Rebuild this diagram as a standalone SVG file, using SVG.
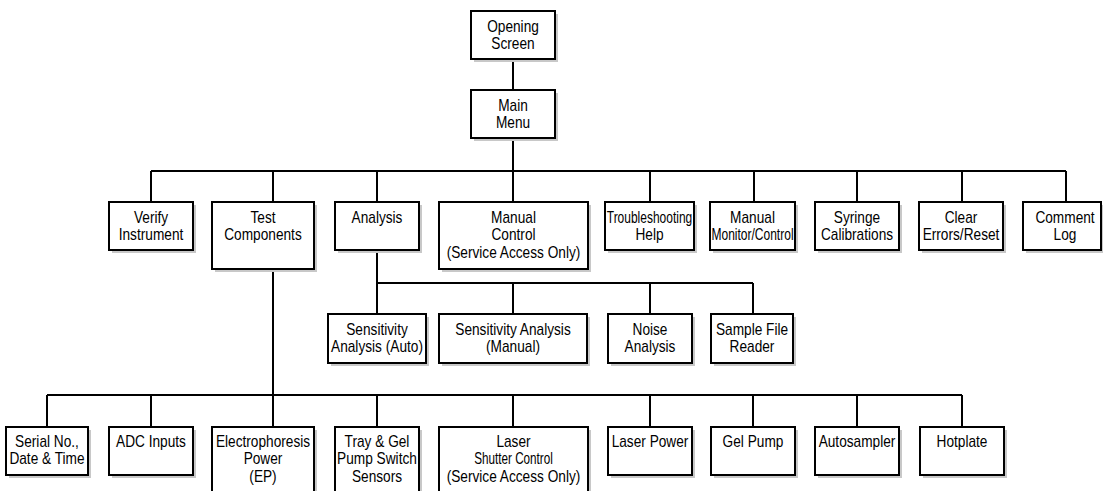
<svg xmlns="http://www.w3.org/2000/svg" width="1103" height="491" viewBox="0 0 1103 491">
<style>
.sh { fill: #c8c8c8; stroke: none; }
.bx { fill: #ffffff; stroke: #000000; stroke-width: 2; }
.t { font-family: "Liberation Sans", Arial, sans-serif; font-size: 16px; text-anchor: middle; fill: #000000; }
#connectors path { fill: none; stroke: #000000; stroke-width: 2; }
</style>
<rect width="1103" height="491" fill="#ffffff"/>
<g id="connectors">
<path d="M513 59 V90 M513 138 V171 M151 171 H1066"/>
<path d="M151 171 V202 M273 171 V202 M377 171 V202 M513 171 V202 M650 171 V202 M754 171 V202 M857 171 V202 M962 171 V202 M1066 171 V202"/>
<path d="M377 250 V314 M377 283 H753 M513 283 V314 M650 283 V314 M753 283 V314"/>
<path d="M273 269 V427 M47 395 H962 M47 395 V427 M151 395 V427 M377 395 V427 M513 395 V427 M650 395 V427 M753 395 V427 M857 395 V427 M962 395 V427"/>
</g>
<g id="opening-screen"><rect class="sh" x="474" y="14" width="84" height="48"/><rect class="bx" x="471" y="11" width="84" height="48"/>
<text class="t" transform="translate(513 0) scale(0.855 1)"><tspan x="0" y="32">Opening</tspan><tspan x="0" y="49.5">Screen</tspan></text></g>
<g id="main-menu"><rect class="sh" x="474" y="93" width="84" height="48"/><rect class="bx" x="471" y="90" width="84" height="48"/>
<text class="t" transform="translate(513 0) scale(0.855 1)"><tspan x="0" y="111">Main</tspan><tspan x="0" y="128.5">Menu</tspan></text></g>

<g id="verify-instrument"><rect class="sh" x="112" y="205" width="84" height="48"/><rect class="bx" x="109" y="202" width="84" height="48"/>
<text class="t" transform="translate(151 0) scale(0.855 1)"><tspan x="0" y="223">Verify</tspan><tspan x="0" y="240.5">Instrument</tspan></text></g>
<g id="test-components"><rect class="sh" x="215" y="205" width="102" height="67"/><rect class="bx" x="212" y="202" width="102" height="67"/>
<text class="t" transform="translate(263 0) scale(0.855 1)"><tspan x="0" y="223">Test</tspan><tspan x="0" y="240.5">Components</tspan></text></g>
<g id="analysis"><rect class="sh" x="338" y="205" width="84" height="48"/><rect class="bx" x="335" y="202" width="84" height="48"/>
<text class="t" transform="translate(377 0) scale(0.855 1)"><tspan x="0" y="223">Analysis</tspan></text></g>
<g id="manual-control"><rect class="sh" x="442" y="205" width="149" height="67"/><rect class="bx" x="439" y="202" width="149" height="67"/>
<text class="t" transform="translate(513.5 0) scale(0.855 1)"><tspan x="0" y="223">Manual</tspan><tspan x="0" y="240.5">Control</tspan><tspan x="0" y="258">(Service Access Only)</tspan></text></g>
<g id="troubleshooting-help"><rect class="sh" x="608" y="205" width="89" height="48"/><rect class="bx" x="605" y="202" width="89" height="48"/>
<text class="t" transform="translate(649.5 0) scale(0.855 1)"><tspan x="0" y="223" textLength="100" lengthAdjust="spacingAndGlyphs">Troubleshooting</tspan><tspan x="0" y="240.5">Help</tspan></text></g>
<g id="manual-monitor-control"><rect class="sh" x="713" y="205" width="85" height="48"/><rect class="bx" x="710" y="202" width="85" height="48"/>
<text class="t" transform="translate(752.5 0) scale(0.855 1)"><tspan x="0" y="223">Manual</tspan><tspan x="0" y="240.5" textLength="96" lengthAdjust="spacingAndGlyphs">Monitor/Control</tspan></text></g>
<g id="syringe-calibrations"><rect class="sh" x="818" y="205" width="84" height="48"/><rect class="bx" x="815" y="202" width="84" height="48"/>
<text class="t" transform="translate(857 0) scale(0.855 1)"><tspan x="0" y="223">Syringe</tspan><tspan x="0" y="240.5">Calibrations</tspan></text></g>
<g id="clear-errors-reset"><rect class="sh" x="922" y="205" width="84" height="48"/><rect class="bx" x="919" y="202" width="84" height="48"/>
<text class="t" transform="translate(961 0) scale(0.855 1)"><tspan x="0" y="223">Clear</tspan><tspan x="0" y="240.5">Errors/Reset</tspan></text></g>
<g id="comment-log"><rect class="sh" x="1026" y="205" width="78" height="48"/><rect class="bx" x="1023" y="202" width="78" height="48"/>
<text class="t" transform="translate(1065 0) scale(0.855 1)"><tspan x="0" y="223">Comment</tspan><tspan x="0" y="240.5">Log</tspan></text></g>

<g id="sensitivity-analysis-auto"><rect class="sh" x="331" y="317" width="98" height="49"/><rect class="bx" x="328" y="314" width="98" height="49"/>
<text class="t" transform="translate(377 0) scale(0.855 1)"><tspan x="0" y="335">Sensitivity</tspan><tspan x="0" y="352.5">Analysis (Auto)</tspan></text></g>
<g id="sensitivity-analysis-manual"><rect class="sh" x="442" y="317" width="148" height="49"/><rect class="bx" x="439" y="314" width="148" height="49"/>
<text class="t" transform="translate(513 0) scale(0.855 1)"><tspan x="0" y="335">Sensitivity Analysis</tspan><tspan x="0" y="352.5">(Manual)</tspan></text></g>
<g id="noise-analysis"><rect class="sh" x="611" y="317" width="84" height="49"/><rect class="bx" x="608" y="314" width="84" height="49"/>
<text class="t" transform="translate(650 0) scale(0.855 1)"><tspan x="0" y="335">Noise</tspan><tspan x="0" y="352.5">Analysis</tspan></text></g>
<g id="sample-file-reader"><rect class="sh" x="714" y="317" width="82" height="49"/><rect class="bx" x="711" y="314" width="82" height="49"/>
<text class="t" transform="translate(752 0) scale(0.855 1)"><tspan x="0" y="335">Sample File</tspan><tspan x="0" y="352.5">Reader</tspan></text></g>

<g id="serial-date-time"><rect class="sh" x="9" y="430" width="82" height="48"/><rect class="bx" x="6" y="427" width="82" height="48"/>
<text class="t" transform="translate(47 0) scale(0.855 1)"><tspan x="0" y="447">Serial No.,</tspan><tspan x="0" y="464.5">Date &amp; Time</tspan></text></g>
<g id="adc-inputs"><rect class="sh" x="112" y="430" width="84" height="48"/><rect class="bx" x="109" y="427" width="84" height="48"/>
<text class="t" transform="translate(151 0) scale(0.855 1)"><tspan x="0" y="447">ADC Inputs</tspan></text></g>
<g id="electrophoresis-power"><rect class="sh" x="215" y="430" width="102" height="70"/><rect class="bx" x="212" y="427" width="102" height="70"/>
<text class="t" transform="translate(263 0) scale(0.855 1)"><tspan x="0" y="447">Electrophoresis</tspan><tspan x="0" y="464.5">Power</tspan><tspan x="0" y="482">(EP)</tspan></text></g>
<g id="tray-gel-pump-switch"><rect class="sh" x="338" y="430" width="84" height="70"/><rect class="bx" x="335" y="427" width="84" height="70"/>
<text class="t" transform="translate(377 0) scale(0.855 1)"><tspan x="0" y="447">Tray &amp; Gel</tspan><tspan x="0" y="464.5">Pump Switch</tspan><tspan x="0" y="482">Sensors</tspan></text></g>
<g id="laser-shutter-control"><rect class="sh" x="442" y="430" width="149" height="70"/><rect class="bx" x="439" y="427" width="149" height="70"/>
<text class="t" transform="translate(513.5 0) scale(0.855 1)"><tspan x="0" y="447">Laser</tspan><tspan x="0" y="464.5" textLength="92" lengthAdjust="spacingAndGlyphs">Shutter Control</tspan><tspan x="0" y="482">(Service Access Only)</tspan></text></g>
<g id="laser-power"><rect class="sh" x="611" y="430" width="84" height="48"/><rect class="bx" x="608" y="427" width="84" height="48"/>
<text class="t" transform="translate(650 0) scale(0.855 1)"><tspan x="0" y="447">Laser Power</tspan></text></g>
<g id="gel-pump"><rect class="sh" x="714" y="430" width="84" height="48"/><rect class="bx" x="711" y="427" width="84" height="48"/>
<text class="t" transform="translate(753 0) scale(0.855 1)"><tspan x="0" y="447">Gel Pump</tspan></text></g>
<g id="autosampler"><rect class="sh" x="818" y="430" width="84" height="48"/><rect class="bx" x="815" y="427" width="84" height="48"/>
<text class="t" transform="translate(857 0) scale(0.855 1)"><tspan x="0" y="447">Autosampler</tspan></text></g>
<g id="hotplate"><rect class="sh" x="923" y="430" width="84" height="48"/><rect class="bx" x="920" y="427" width="84" height="48"/>
<text class="t" transform="translate(962 0) scale(0.855 1)"><tspan x="0" y="447">Hotplate</tspan></text></g>
</svg>
